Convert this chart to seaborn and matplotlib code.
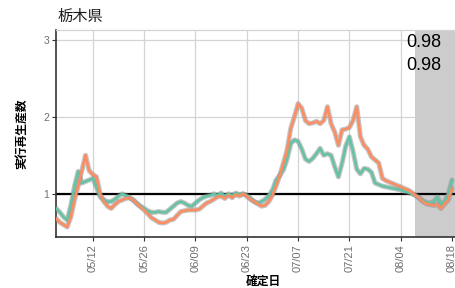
import numpy as np
import pandas as pd
import matplotlib
matplotlib.use("Agg")
import matplotlib.pyplot as plt
import matplotlib.dates as mdates
import seaborn as sns

start_date = "2020-05-02"
end_date = "2020-08-18"
shade_start = "2020-08-08"
title = "栃木県"
ylabel = "実行再生産数"
xlabel = "確定日"
annot_values = ["0.98", "0.98"]
yticks = [1, 2, 3]

green = [0.81, 0.76, 0.70, 0.66, 0.85, 1.10, 1.29, 1.14, 1.16, 1.18,
         1.20, 1.08, 0.96, 0.92, 0.90, 0.90, 0.93, 0.97, 1.00, 0.98,
         0.95, 0.92, 0.88, 0.84, 0.81, 0.78, 0.76, 0.76, 0.77, 0.76,
         0.76, 0.80, 0.84, 0.88, 0.90, 0.88, 0.85, 0.84, 0.88, 0.92,
         0.95, 0.97, 0.98, 1.00, 0.98, 1.01, 0.97, 1.00, 0.98, 1.01,
         0.99, 1.00, 0.98, 0.94, 0.90, 0.88, 0.90, 0.93, 0.98, 1.05,
         1.18, 1.24, 1.31, 1.45, 1.65, 1.70, 1.68, 1.58, 1.45, 1.42,
         1.46, 1.52, 1.59, 1.50, 1.52, 1.50, 1.35, 1.22, 1.40, 1.62,
         1.74, 1.55, 1.32, 1.26, 1.33, 1.32, 1.28, 1.14, 1.12, 1.10,
         1.09, 1.08, 1.07, 1.06, 1.05, 1.03, 1.02, 1.00, 0.98, 0.95,
         0.91, 0.89, 0.88, 0.90, 0.96, 0.86, 0.90, 1.00, 1.18]

orange = [0.68, 0.63, 0.60, 0.57, 0.70, 0.92, 1.10, 1.30, 1.50, 1.30,
          1.25, 1.22, 1.00, 0.90, 0.84, 0.81, 0.86, 0.90, 0.92, 0.94,
          0.95, 0.92, 0.87, 0.83, 0.79, 0.74, 0.69, 0.66, 0.63, 0.62,
          0.63, 0.66, 0.67, 0.72, 0.77, 0.78, 0.79, 0.79, 0.79, 0.80,
          0.84, 0.88, 0.90, 0.93, 0.96, 0.97, 0.94, 0.98, 0.95, 0.99,
          0.97, 1.00, 0.97, 0.93, 0.90, 0.87, 0.84, 0.85, 0.90, 0.98,
          1.10, 1.24, 1.40, 1.57, 1.85, 2.00, 2.17, 2.11, 1.95, 1.91,
          1.92, 1.94, 1.91, 1.95, 2.13, 1.91, 1.80, 1.63, 1.83, 1.84,
          1.86, 1.95, 2.13, 1.74, 1.63, 1.58, 1.48, 1.44, 1.40, 1.20,
          1.17, 1.15, 1.13, 1.11, 1.09, 1.07, 1.05, 1.02, 0.98, 0.95,
          0.90, 0.87, 0.86, 0.85, 0.86, 0.81, 0.87, 0.92, 1.07]

dates = pd.date_range(start_date, end_date, freq="D")
df = pd.DataFrame({
    "date": np.concatenate([dates, dates]),
    "R": green + orange,
    "series": ["A"] * len(green) + ["B"] * len(orange),
})

sns.set_theme(style="white")
plt.rcParams["font.family"] = ["Liberation Sans", "Noto Sans CJK JP"]

fig = plt.figure(figsize=(4.56, 2.88), dpi=100)
# axes right edge extends past the figure (cropped in reference)
ax = fig.add_axes([56 / 456, 51 / 288, 414 / 456, 207 / 288])

x0 = pd.Timestamp(start_date)
ax.set_xlim(mdates.date2num(x0) - 0.05, mdates.date2num(x0) + 414 / 3.667)
ax.set_ylim(0.44, 3.125)

ax.grid(True, color="#d4d4d4", linewidth=0.9, zorder=0)
ax.set_axisbelow(True)

ax.axvspan(pd.Timestamp(shade_start), pd.Timestamp("2020-09-30"),
           color="#cccccc", zorder=1, lw=0)
ax.axhline(1, color="black", lw=1.6, zorder=2)

for name, col in [("A", "#66c2a5"), ("B", "#fc8d62")]:
    sub = df[df["series"] == name]
    sns.lineplot(data=sub, x="date", y="R", ax=ax, color="#8a8a8a",
                 lw=3.6, alpha=0.5, zorder=3, legend=False)
    sns.lineplot(data=sub, x="date", y="R", ax=ax, color=col,
                 lw=1.9, zorder=4, legend=False)

ticks = pd.date_range("2020-05-12", "2020-08-18", freq="14D")
ax.set_xticks(ticks)
ax.xaxis.set_major_formatter(mdates.DateFormatter("%m/%d"))
ax.set_yticks(yticks)
ax.tick_params(axis="x", rotation=90, labelsize=8, length=3, width=0.8,
               bottom=True, pad=2, color="#333333")
ax.tick_params(axis="y", labelsize=7.5, length=3, width=0.8, left=True,
               pad=2, color="#333333")
for lab in ax.get_xticklabels() + ax.get_yticklabels():
    lab.set_color("#6e6e6e")

for s in ["left", "bottom"]:
    ax.spines[s].set_color("#333333")
    ax.spines[s].set_linewidth(1.2)
ax.spines["top"].set_color("#d4d4d4")
ax.spines["top"].set_linewidth(0.9)
ax.spines["right"].set_visible(False)

ax.set_xlabel(xlabel, fontsize=8.5, fontweight="bold", labelpad=3,
              color="black")
ax.set_ylabel(ylabel, fontsize=8.5, fontweight="bold", labelpad=11,
              color="black")

fig.text(57 / 456, 1 - 21 / 288, title, fontsize=11, color="#1a1a1a",
         va="baseline", ha="left")
fig.text(406 / 456, 1 - 46.7 / 288, annot_values[0], fontsize=13,
         color="black", va="baseline", ha="left")
fig.text(406 / 456, 1 - 70 / 288, annot_values[1], fontsize=13,
         color="black", va="baseline", ha="left")

fig.savefig("out.png", dpi=100)
